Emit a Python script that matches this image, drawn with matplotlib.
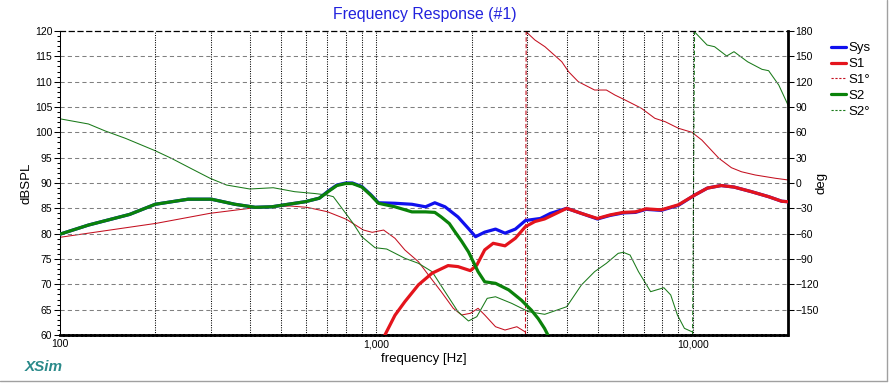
"""XSim frequency response (#1): SPL of Sys/S1/S2 on the left axis,
phase of S1/S2 on the right axis, log frequency 100 Hz .. 20 kHz."""

import numpy as np
import matplotlib
matplotlib.use("Agg")
import matplotlib.pyplot as plt
import matplotlib.ticker as mticker
from matplotlib.lines import Line2D

plt.rcParams.update({
    "font.family": ["Liberation Sans", "DejaVu Sans"],
    "font.size": 8,
    "axes.linewidth": 0.75,
    "lines.solid_joinstyle": "round",
    "lines.solid_capstyle": "round",
})

BLUE = "#1010ee"
RED = "#e4141c"
RED_THIN = "#c41020"
GREEN = "#0a820a"
GREEN_THIN = "#1a7a1a"
GRID = "#808080"

# ---- data -----------------------------------------------------------------
sys_f = [100, 123, 166, 200, 254, 301, 357, 414, 467, 526, 595, 660, 704, 750,
         800, 840, 900, 960, 1015, 1145, 1295, 1430, 1530, 1648, 1811, 1955,
         2058, 2200, 2380, 2550, 2750, 2960, 3300, 3550, 3996, 4446, 4995,
         5480, 6030, 6590, 7120, 7950, 9012, 10130, 11130, 12300, 13500,
         15300, 17370, 19100, 20000]
sys_db = [79.9, 81.7, 83.8, 85.8, 86.8, 86.8, 85.8, 85.2, 85.3, 85.8, 86.3,
          87.0, 88.4, 89.6, 90.0, 90.0, 89.3, 87.7, 86.1, 86.0, 85.8, 85.3,
          86.1, 85.3, 83.3, 81.0, 79.4, 80.3, 80.9, 80.1, 80.9, 82.6, 83.0,
          84.0, 85.0, 84.0, 82.9, 83.6, 84.1, 84.2, 84.8, 84.6, 85.6, 87.6,
          89.0, 89.5, 89.2, 88.3, 87.3, 86.4, 86.3]

s1_f = [1060, 1145, 1231, 1358, 1500, 1685, 1811, 1982, 2077, 2200, 2340,
        2550, 2750, 2960, 3171, 3400, 3700, 3996, 4446, 4995, 5480, 6030,
        6590, 7120, 7950, 9012, 10130, 11130, 12300, 13500, 15300, 17370,
        19100, 20000]
s1_db = [59.8, 63.9, 66.6, 69.9, 72.2, 73.7, 73.5, 72.7, 73.8, 76.8, 78.1,
         77.6, 79.1, 81.4, 82.4, 82.9, 84.0, 85.0, 84.0, 83.0, 83.7, 84.2,
         84.3, 84.9, 84.7, 85.7, 87.6, 89.0, 89.5, 89.2, 88.3, 87.3, 86.4,
         86.3]

s1_ph_f = [100, 202, 298, 398, 533, 603, 700, 804, 910, 970, 1054, 1145, 1231,
           1358, 1461, 1603, 1750, 1860, 1982, 2096, 2200, 2380, 2550, 2780,
           2960, 2975, 3171, 3410, 3855, 4050, 4346, 4895, 5333, 5673, 6112,
           6880, 7590, 8180, 9012, 9940, 10680, 12100, 13250, 14260, 15750,
           18250, 20000]
s1_ph = [-64.3, -47.7, -35.9, -30.0, -27.2, -28.8, -34.0, -43.0, -55.7, -58.4,
         -55.7, -65.5, -79.4, -93.2, -109.0, -128.7, -148.4, -156.3, -154.3,
         -148.4, -156.3, -170.2, -174.1, -170.2, -176.5, 179.0, 169.3, 161.4,
         143.6, 131.8, 120.0, 110.1, 110.1, 104.2, 98.3, 88.5, 76.6, 72.6,
         64.8, 60.0, 50.9, 29.2, 18.1, 13.3, 9.5, 5.6, 3.6]

s2_f = [100, 123, 166, 200, 254, 301, 357, 414, 467, 526, 595, 660, 704, 750,
        800, 840, 900, 960, 1015, 1145, 1295, 1430, 1530, 1603, 1700, 1770,
        1860, 1955, 2096, 2200, 2380, 2620, 2870, 3090, 3250, 3400, 3550]
s2_db = [79.9, 81.7, 83.8, 85.8, 86.8, 86.8, 85.8, 85.2, 85.3, 85.8, 86.3,
         87.0, 88.3, 89.5, 89.9, 89.9, 89.2, 87.6, 86.0, 85.3, 84.3, 84.3,
         84.2, 83.3, 82.0, 80.4, 78.5, 76.4, 72.5, 70.5, 70.2, 68.9, 66.9,
         64.9, 63.2, 61.3, 59.0]

s2_ph_f = [100, 123, 139, 161, 200, 225, 260, 298, 336, 398, 472, 552, 640,
           697, 731, 793, 845, 899, 990, 1078, 1231, 1358, 1500, 1648, 1811,
           1955, 2077, 2240, 2380, 2676, 3027, 3405, 3996, 4446, 4895, 5333,
           5811, 6030, 6336, 6737, 7360, 8104, 8518, 8943, 9410, 9988, 10130,
           11100, 11720, 12800, 13500, 14900, 16550, 17370, 18700, 20000]
s2_ph = [76.0, 69.9, 61.6, 52.9, 38.2, 29.2, 17.0, 5.6, -2.4, -7.1, -5.6,
         -10.3, -12.5, -14.2, -16.2, -34.0, -48.0, -63.6, -76.6, -78.2, -89.2,
         -95.1, -105.0, -128.7, -152.4, -163.4, -158.3, -136.6, -134.7,
         -142.5, -152.4, -155.5, -146.5, -120.8, -105.0, -95.1, -83.3, -82.1,
         -85.3, -105.0, -128.7, -124.0, -132.6, -156.3, -172.1, -176.5, 179.0,
         163.4, 161.4, 150.4, 155.5, 143.6, 134.6, 133.0, 116.0, 92.4]

series_labels = ["Sys", "S1", "S1°", "S2", "S2°"]
x_tick_vals = [100, 1000, 10000]
x_tick_labels = ["100", "1,000", "10,000"]


def plot_phase(ax, f, ph, color):
    """Solid thin phase trace, dashed connector where it wraps at +-180."""
    f = np.asarray(f, float)
    ph = np.asarray(ph, float)
    jumps = np.where(np.abs(np.diff(ph)) > 180)[0]
    start = 0
    for j in list(jumps) + [len(ph) - 1]:
        ax.plot(f[start:j + 1], ph[start:j + 1], color=color, lw=0.75)
        start = j + 1
    for j in jumps:
        ax.plot([f[j], f[j + 1]], [-180, 180], color=color, lw=0.8,
                ls=(0, (4, 2)))


def main() -> None:
    W, H = 893, 383
    fig = plt.figure(figsize=(W / 100, H / 100), dpi=100, facecolor="white")

    L, R, T, B = 60, 788, 31, 335
    ax = fig.add_axes([L / W, 1 - B / H, (R - L) / W, (B - T) / H])
    ax2 = ax.twinx()

    # magnitudes drawn above the phase axis
    ax.set_zorder(ax2.get_zorder() + 1)
    ax.patch.set_visible(False)

    plot_phase(ax2, s1_ph_f, s1_ph, RED_THIN)
    plot_phase(ax2, s2_ph_f, s2_ph, GREEN_THIN)

    ax.plot(sys_f, sys_db, color=BLUE, lw=2.3, zorder=3)
    ax.plot(s1_f, s1_db, color=RED, lw=2.3, zorder=4)
    ax.plot(s2_f, s2_db, color=GREEN, lw=2.3, zorder=5)

    ax.set_xscale("log")
    ax.set_xlim(100, 20000)
    ax.set_ylim(60, 120)
    ax2.set_ylim(-180, 180)

    # grid
    for y in range(65, 120, 5):
        ax.axhline(y, color=GRID, lw=0.75, ls=(0, (4, 3)), zorder=1)
    for dec in (100, 1000, 10000):
        for m in range(1, 10):
            xv = dec * m
            if 100 < xv < 20000:
                ax.axvline(xv, color="black", lw=0.75, ls=(0, (1, 1.3)),
                           zorder=1)

    # x axis
    ax.xaxis.set_major_locator(mticker.FixedLocator(x_tick_vals))
    ax.xaxis.set_major_formatter(mticker.FixedFormatter(x_tick_labels))
    ax.xaxis.set_minor_locator(mticker.NullLocator())
    ax.tick_params(axis="x", length=0, pad=3, labelsize=7.5)
    ax.set_xlabel("frequency [Hz]", fontsize=9.5, va="center")
    ax.xaxis.set_label_coords(0.5, (B - 359) / (B - T))

    # left axis
    ax.yaxis.set_major_locator(mticker.MultipleLocator(5))
    ax.yaxis.set_minor_locator(mticker.MultipleLocator(1))
    ax.tick_params(axis="y", which="major", length=4, width=0.75, pad=1.5,
                   labelsize=7.5, direction="out")
    ax.tick_params(axis="y", which="minor", length=2, width=0.75,
                   direction="out")
    ax.set_ylabel("dBSPL", fontsize=9.5, va="center", ha="center")
    ax.yaxis.set_label_coords((27 - L) / (R - L), 0.5)

    # right axis
    ax2.set_yticks(np.arange(-150, 181, 30))
    ax2.tick_params(axis="y", length=4, width=0.75, pad=1.5, labelsize=7.5)
    ax2.set_ylabel("deg", fontsize=9.5, rotation=90, va="center",
                   ha="center")
    ax2.yaxis.set_label_coords((822 - L) / (R - L), 0.5)

    # spines
    for a in (ax, ax2):
        for s in a.spines.values():
            s.set_visible(False)
    ax.spines["left"].set_visible(True)
    ax.spines["left"].set_linewidth(0.75)
    ax.spines["top"].set_visible(True)
    ax.spines["top"].set_linestyle((0, (4, 3)))
    ax.spines["top"].set_linewidth(0.9)
    ax.spines["bottom"].set_visible(True)
    ax.spines["bottom"].set_linestyle((0, (1, 0.6)))
    ax.spines["bottom"].set_linewidth(2.0)
    ax2.spines["right"].set_visible(True)
    ax2.spines["right"].set_linewidth(2.0)

    # title, logo
    fig.text(425 / W, 1 - 15 / H, "Frequency Response (#1)", color="#2222dd",
             fontsize=11.4, ha="center", va="center")
    fig.text(25 / W, 1 - 367 / H, "XSim", color="#2a8a8a", fontsize=11,
             fontweight="bold", fontstyle="italic", ha="left", va="center")

    # legend
    handles = [
        Line2D([], [], color=BLUE, lw=2.3),
        Line2D([], [], color=RED, lw=2.3),
        Line2D([], [], color=RED_THIN, lw=0.8, ls=(0, (2, 1.5))),
        Line2D([], [], color=GREEN, lw=2.3),
        Line2D([], [], color=GREEN_THIN, lw=0.8, ls=(0, (2, 1.5))),
    ]
    fig.legend(handles, series_labels, loc="upper left",
               bbox_to_anchor=(831 / W, 1 - 42 / H), frameon=False,
               fontsize=9.5, handlelength=1.1, handletextpad=0.2,
               labelspacing=0.28, borderpad=0, borderaxespad=0)

    # window frame edge
    fig.add_artist(Line2D([0, 887 / W], [1 - 380.5 / H] * 2,
                          transform=fig.transFigure, color="#a0a0a0", lw=1))
    fig.add_artist(Line2D([887 / W] * 2, [1 - 380.5 / H, 1],
                          transform=fig.transFigure, color="#a0a0a0", lw=1))

    fig.savefig("out.png", dpi=100, facecolor="white")
    plt.close(fig)


if __name__ == "__main__":
    main()
